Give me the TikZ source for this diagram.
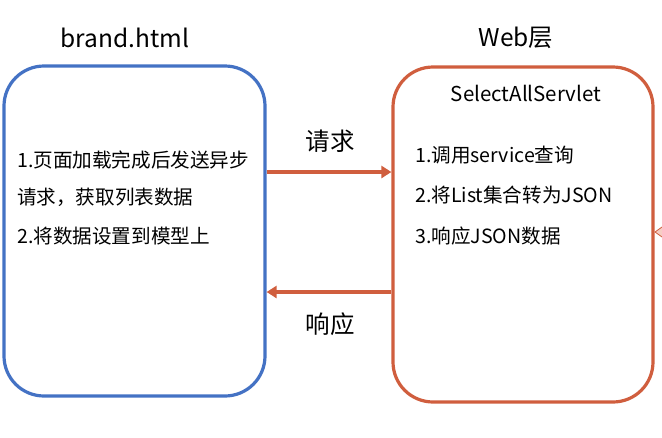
\documentclass[tikz,border=0pt]{standalone}
\usepackage{fontspec}
\setmainfont{Noto Sans CJK SC}
\usetikzlibrary{arrows.meta}
\definecolor{layerblue}{RGB}{68,114,196}
\definecolor{layerred}{RGB}{208,94,62}
\definecolor{tippink}{RGB}{246,206,196}

\begin{document}
\begin{tikzpicture}[x=1pt,y=-1pt,
  layerbox/.style={draw,line width=3.2pt,rounded corners=40pt,inner sep=0pt,
    minimum width=261pt,minimum height=330pt},
  title/.style={inner sep=0pt,font=\fontsize{24.5}{29}\selectfont},
  item/.style={anchor=west,inner sep=0pt,font=\fontsize{19.6}{23}\selectfont},
  msg/.style={line width=3.4pt,layerred,-{Triangle[length=10pt,width=12pt]}}]
  \useasboundingbox (0,0) rectangle (662,437); % 画像全体の大きさ

  \node[layerbox,layerblue] (brand) at (134.5,231) {}; % ブラウザ側の枠
  \node[layerbox,layerred,minimum width=260pt,minimum height=335pt] (web) at (523,234.5) {}; % Web層の枠

  \node[title] (brandtitle) at (125,38) {brand.html};
  \node[title] (webtitle) at (516,38) {Web层};
  \node[inner sep=0pt,font=\fontsize{20.5}{24}\selectfont] (servlet) at (526,93) {SelectAllServlet};

  % ブラウザ側の処理
  \node[item] (b1) at (17,160) {1.页面加载完成后发送异步};
  \node[item] (b2) at (17,197) {请求，获取列表数据};
  \node[item] (b3) at (17,236) {2.将数据设置到模型上};

  % サーブレット側の処理
  \node[item] (w1) at (415,155) {1.调用service查询};
  \node[item] (w2) at (415,195) {2.将List集合转为JSON};
  \node[item] (w3) at (415,236) {3.响应JSON数据};

  \coordinate (reqy) at (0,172); % 要求の矢印の高さ
  \coordinate (respy) at (0,292); % 応答の矢印の高さ
  \draw[msg] (brand.east |- reqy) -- (web.west |- reqy);
  \draw[msg] (web.west |- respy) -- (brand.east |- respy);
  \node[title] (req) at (330,141) {请求};
  \node[title] (resp) at (330,324) {响应};

  % 右端で切れている別の矢印の先
  \filldraw[fill=tippink,draw=layerred,line width=0.8pt] (655,232) -- (669,222) -- (669,242) -- cycle;
\end{tikzpicture}
\end{document}
